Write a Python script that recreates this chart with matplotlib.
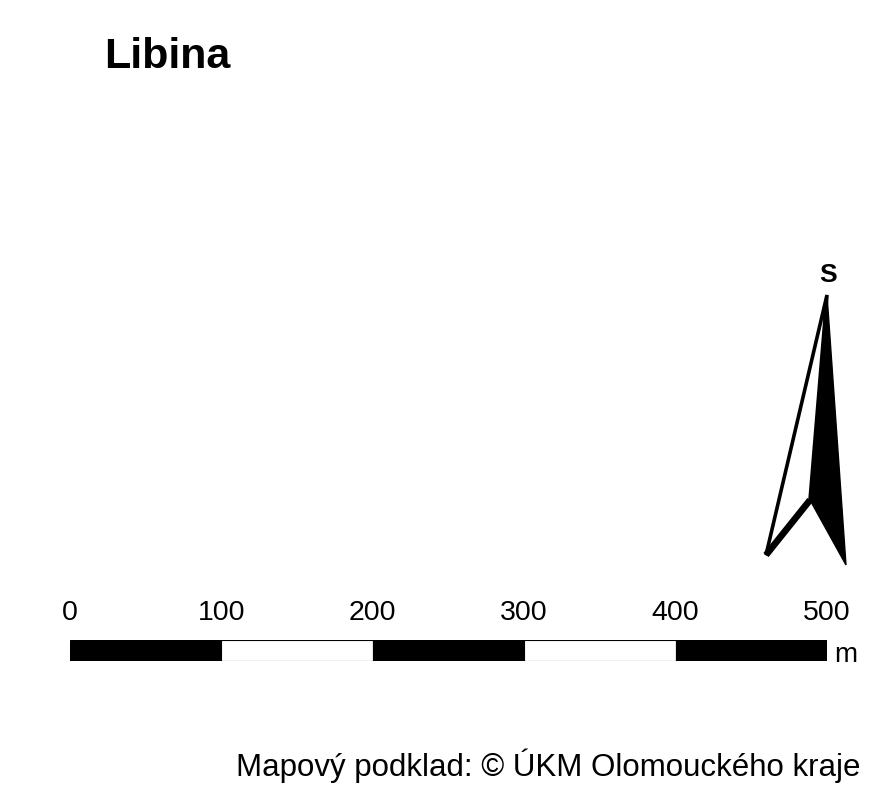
import matplotlib.pyplot as plt
from matplotlib.patches import Polygon

plt.rcParams['font.family'] = ['Liberation Sans', 'DejaVu Sans']

W, H = 888, 798

title = "Libina"
north_label = "S"
credit = "Mapový podklad: © ÚKM Olomouckého kraje"
scale_ticks = [0, 100, 200, 300, 400, 500]
scale_unit = "m"
seg_colors = ["black", "white", "black", "white", "black"]

fig = plt.figure(figsize=(W / 100, H / 100), dpi=100)

# full-figure axes in pixel coordinates for text and north arrow
ax = fig.add_axes([0, 0, 1, 1])
ax.set_xlim(0, W)
ax.set_ylim(H, 0)
ax.axis('off')

ax.text(104, 57, title, fontsize=31, fontweight='bold', ha='left', va='center')

# north arrow
tip = (827, 295)
left = (766, 555)
notch = (810, 500)
right = (846, 565)
ax.add_patch(Polygon([tip, left, notch], closed=True, facecolor='white',
                     edgecolor='black', linewidth=2.6, joinstyle='miter'))
ax.add_patch(Polygon([tip, notch, right], closed=True, facecolor='black',
                     edgecolor='black', linewidth=1))
ax.plot([left[0], notch[0]], [left[1], notch[1]], color='black', lw=4.8,
        solid_capstyle='butt')
ax.text(828, 275, north_label, fontsize=19, fontweight='bold', ha='center', va='center')

ax.text(860, 766, credit, fontsize=22.5, ha='right', va='center')

# scale bar axes in metres
sax = fig.add_axes([70 / W, 1 - 661 / H, (827 - 70) / W, 21 / H])
sax.set_xlim(scale_ticks[0], scale_ticks[-1])
sax.set_ylim(0, 1)
sax.axis('off')
for i, c in enumerate(seg_colors):
    sax.barh(0.5, scale_ticks[i + 1] - scale_ticks[i], left=scale_ticks[i], height=1,
             color=c, edgecolor='black', linewidth=0.8)
for t in scale_ticks:
    sax.text(t, 2.3, str(t), fontsize=20.5, ha='center', va='center', clip_on=False)
sax.text(scale_ticks[-1] + 5, 0.3, scale_unit, fontsize=20, ha='left', va='center',
         clip_on=False)

fig.savefig('out.png', dpi=100)
